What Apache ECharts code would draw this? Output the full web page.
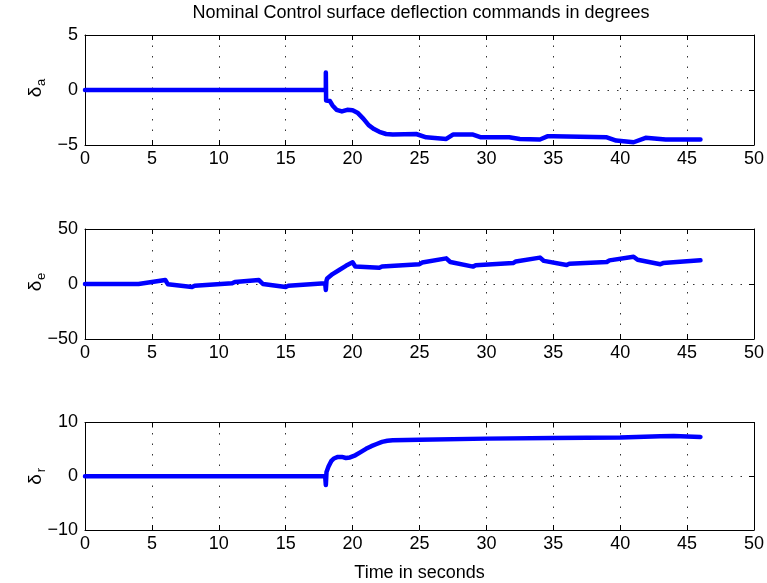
<!DOCTYPE html>
<html>
<head>
<meta charset="utf-8">
<script src="https://cdn.jsdelivr.net/npm/echarts@6/dist/echarts.min.js"></script>
<style>html,body{margin:0;padding:0;background:#fff;}#c{width:767px;height:583px;}</style>
</head>
<body>
<div id="c"></div>
<script>
var titleText = 'Nominal Control surface deflection commands in degrees';
var xLabel = 'Time in seconds';
var xTicks = [0, 5, 10, 15, 20, 25, 30, 35, 40, 45, 50];

// aileron
var daT = [0, 18, 18, 18.02, 18.3, 18.5, 18.8, 19.2, 19.6, 20.0, 20.4, 20.8, 21.2, 21.6, 22.0, 22.5, 23.0, 24.75, 25.5, 27, 27.5, 29, 29.6, 31.7, 32.5, 34.0, 34.6, 35, 39, 39.7, 41, 41.9, 43.4, 46];
var daV = [0, 0, 1.6, -0.95, -1.0, -1.4, -1.8, -1.95, -1.8, -1.85, -2.1, -2.6, -3.2, -3.55, -3.8, -4.0, -4.05, -4.0, -4.3, -4.45, -4.05, -4.05, -4.3, -4.3, -4.45, -4.5, -4.2, -4.2, -4.3, -4.6, -4.75, -4.35, -4.5, -4.5];
// elevator
var deT = [0, 4, 4.05, 6, 6.2, 8, 8.2, 11, 11.2, 13, 13.3, 15, 15.2, 17.95, 18.0, 18.05, 18.1, 18.5, 19, 19.5, 20, 20.2, 22, 22.2, 25, 25.2, 27, 27.3, 29, 29.2, 32, 32.2, 34, 34.3, 36, 36.2, 39, 39.2, 41, 41.3, 43, 43.2, 46];
var deV = [0, 0, 1.2, 3.6, -0.3, -2.7, -1.5, 0.6, 1.8, 3.6, 0, -2.7, -1.5, 0.6, -5.4, 3, 5, 9, 12.7, 16.5, 19.7, 16, 14.8, 16, 18, 19.5, 23.3, 20, 15.8, 17, 19, 20.5, 24, 21, 17.3, 18.5, 20, 21.5, 24.8, 22, 17.9, 19, 21.5];
// rudder
var drT = [0, 17.95, 18.0, 18.05, 18.2, 18.4, 18.6, 18.9, 19.2, 19.5, 19.8, 20.2, 20.6, 21.0, 21.4, 21.8, 22.2, 22.6, 23.0, 25, 30, 35, 40, 43, 44, 46];
var drV = [0, 0, -1.65, 0.8, 1.8, 2.8, 3.3, 3.6, 3.6, 3.4, 3.5, 3.9, 4.5, 5.1, 5.6, 6.0, 6.4, 6.6, 6.7, 6.8, 7.0, 7.1, 7.2, 7.45, 7.5, 7.3];

var yRanges = [[-5, 5, 5], [-50, 50, 50], [-10, 10, 10]];
var ySubs = ['a', 'e', 'r'];

function pairs(t, v) { return t.map(function (x, i) { return [x, v[i]]; }); }
var seriesData = [pairs(daT, daV), pairs(deT, deV), pairs(drT, drV)];

var FONT = 'Liberation Sans, Arial, Helvetica, sans-serif';
var tops = [35, 229, 422.5];
var grids = tops.map(function (t) { return { left: 85, top: t, width: 670, height: 110 }; });
function minus(v) { return String(v).replace('-', '\u2212'); }

var xAxes = [], yAxes = [], series = [], graphics = [];
for (var i = 0; i < 3; i++) {
  xAxes.push({
    type: 'value', gridIndex: i, min: 0, max: 50, interval: 5, position: 'bottom',
    axisLine: { show: true, onZero: false, lineStyle: { color: '#000', width: 1 } },
    axisTick: { show: true, inside: true, length: 5, lineStyle: { color: '#000' } },
    axisLabel: { show: true, color: '#000', fontSize: 18, fontFamily: FONT, margin: 5, formatter: minus, showMinLabel: true, showMaxLabel: true },
    splitLine: { show: true, lineStyle: { color: '#333', type: [1.5, 9], width: 1 } },
    name: i === 2 ? xLabel : '', nameLocation: 'middle', nameGap: 34,
    nameTextStyle: { color: '#000', fontSize: 18, fontFamily: FONT }
  });
  xAxes.push({
    type: 'value', gridIndex: i, min: 0, max: 50, interval: 5, position: 'top',
    axisLine: { show: true, onZero: false, lineStyle: { color: '#000', width: 1 } },
    axisTick: { show: true, inside: true, length: 5, lineStyle: { color: '#000' } },
    axisLabel: { show: false }, splitLine: { show: false }
  });
  var r = yRanges[i];
  yAxes.push({
    type: 'value', gridIndex: i, min: r[0], max: r[1], interval: r[2], position: 'left',
    axisLine: { show: true, onZero: false, lineStyle: { color: '#000', width: 1 } },
    axisTick: { show: true, inside: true, length: 5, lineStyle: { color: '#000' } },
    axisLabel: { show: true, color: '#000', fontSize: 18, fontFamily: FONT, margin: 7, formatter: minus },
    splitLine: { show: true, lineStyle: { color: '#333', type: [1.5, 8], width: 1 } }
  });
  yAxes.push({
    type: 'value', gridIndex: i, min: r[0], max: r[1], interval: r[2], position: 'right',
    axisLine: { show: true, onZero: false, lineStyle: { color: '#000', width: 1 } },
    axisTick: { show: true, inside: true, length: 5, lineStyle: { color: '#000' } },
    axisLabel: { show: false }, splitLine: { show: false }
  });
  series.push({
    type: 'line', xAxisIndex: 2 * i, yAxisIndex: 2 * i, data: seriesData[i],
    showSymbol: false, symbol: 'none', clip: true, animation: false,
    lineStyle: { color: '#0000ff', width: 4.5, join: 'round', cap: 'round' },
    itemStyle: { color: '#0000ff' }
  });
  graphics.push({
    type: 'group', x: 36, y: tops[i] + 54, rotation: Math.PI / 2,
    children: [
      { type: 'text', x: -3, y: 0, style: { text: '\u03b4', fill: '#000', font: '19px ' + FONT, align: 'center', verticalAlign: 'middle' } },
      { type: 'text', x: 6.5, y: 5, style: { text: ySubs[i], fill: '#000', font: '13px ' + FONT, align: 'center', verticalAlign: 'middle' } }
    ]
  });
}
graphics.push({
  type: 'text', x: 421, y: 4,
  style: { text: titleText, fill: '#000', font: '18px ' + FONT, textAlign: 'center', align: 'center' }
});

var chart = echarts.init(document.getElementById('c'), null, { renderer: 'canvas' });
chart.setOption({
  animation: false,
  backgroundColor: '#fff',
  grid: grids,
  xAxis: xAxes,
  yAxis: yAxes,
  series: series,
  graphic: graphics
});
</script>
</body>
</html>
